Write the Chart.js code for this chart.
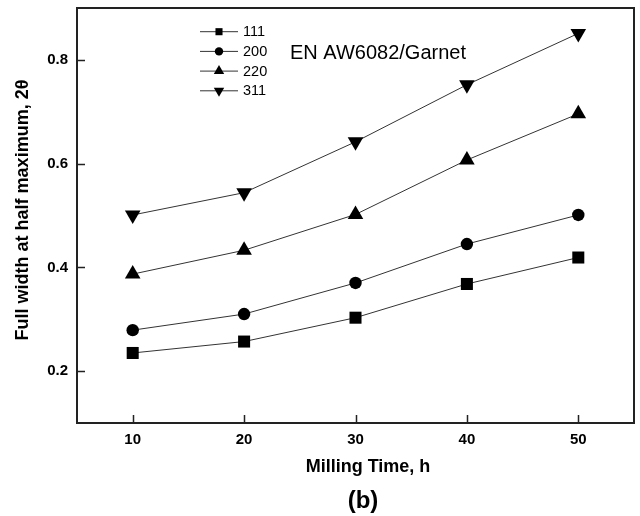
<!DOCTYPE html>
<html>
<head>
<meta charset="utf-8">
<title>FWHM vs milling time</title>
<script src="https://cdn.jsdelivr.net/npm/chart.js@4.4.1/dist/chart.umd.min.js"></script>
<style>
  html, body { margin: 0; padding: 0; background: #fff; }
  #wrap { width: 640px; height: 516px; }
</style>
</head>
<body>
<div id="wrap"><canvas id="fwhmChart" width="640" height="516"></canvas></div>
<script>
// Dáta odčítané z grafu
const millingTime = [10, 20, 30, 40, 50];
const fwhm111 = [0.235, 0.257, 0.303, 0.368, 0.419];
const fwhm200 = [0.279, 0.310, 0.370, 0.445, 0.501];
const fwhm220 = [0.387, 0.433, 0.502, 0.607, 0.696];
const fwhm311 = [0.501, 0.544, 0.642, 0.752, 0.851];
const seriesLabels = ['111', '200', '220', '311'];
const xTicks = [10, 20, 30, 40, 50];
const yTicks = [0.2, 0.4, 0.6, 0.8];

const FONT = "Arial, 'Liberation Sans', sans-serif";
const INK = '#222';

function toPoints(values) {
    return millingTime.map((t, i) => ({ x: t, y: values[i] }));
}

const markers = [
    { pointStyle: 'rect', rotation: 0, radius: 8.5, legendRadius: 5 },
    { pointStyle: 'circle', rotation: 0, radius: 6.2, legendRadius: 4.2 },
    { pointStyle: 'triangle', rotation: 0, radius: 9, legendRadius: 6 },
    { pointStyle: 'triangle', rotation: 180, radius: 9, legendRadius: 6 }
];

const allSeries = [fwhm111, fwhm200, fwhm220, fwhm311];

const datasets = allSeries.map((values, i) => ({
    label: seriesLabels[i],
    data: toPoints(values),
    borderColor: '#333',
    borderWidth: 1,
    backgroundColor: '#000',
    pointBackgroundColor: '#000',
    pointBorderColor: '#000',
    pointBorderWidth: 0,
    pointStyle: markers[i].pointStyle,
    rotation: markers[i].rotation,
    pointRadius: markers[i].radius,
    pointHoverRadius: markers[i].radius,
    tension: 0
}));

// Rámček, vnútorné značky osí, legenda a popisky
const decorPlugin = {
    id: 'decor',
    afterDraw(chart) {
        const ctx = chart.ctx;
        const area = chart.chartArea;
        const xs = chart.scales.x;
        const ys = chart.scales.y;
        ctx.save();

        // rámček
        ctx.strokeStyle = INK;
        ctx.lineWidth = 2;
        ctx.strokeRect(area.left, area.top, area.right - area.left, area.bottom - area.top);

        // značky dovnútra
        ctx.lineWidth = 1.5;
        ctx.beginPath();
        xTicks.forEach(v => {
            const px = Math.round(xs.getPixelForValue(v)) + 0.5;
            ctx.moveTo(px, area.bottom);
            ctx.lineTo(px, area.bottom - 8);
        });
        yTicks.forEach(v => {
            const py = Math.round(ys.getPixelForValue(v)) + 0.5;
            ctx.moveTo(area.left, py);
            ctx.lineTo(area.left + 8, py);
        });
        ctx.stroke();

        // legenda
        ctx.textBaseline = 'middle';
        ctx.textAlign = 'left';
        ctx.font = '14.5px ' + FONT;
        chart.data.datasets.forEach((ds, i) => {
            const y = 31.7 + i * 19.7;
            ctx.strokeStyle = '#333';
            ctx.lineWidth = 1;
            ctx.beginPath();
            ctx.moveTo(200, y);
            ctx.lineTo(238, y);
            ctx.stroke();
            ctx.fillStyle = '#000';
            Chart.helpers.drawPoint(ctx, {
                pointStyle: ds.pointStyle,
                rotation: ds.rotation,
                radius: markers[i].legendRadius,
                borderWidth: 0
            }, 219, y);
            ctx.fillStyle = '#000';
            ctx.fillText(ds.label, 243, y + 0.5);
        });

        // anotácia
        ctx.font = '20px ' + FONT;
        ctx.fillText('EN AW6082/Garnet', 290, 53);

        // názvy osí
        ctx.font = 'bold 18px ' + FONT;
        ctx.textAlign = 'center';
        ctx.fillText('Milling Time, h', 368, 467);
        ctx.font = 'bold 24px ' + FONT;
        ctx.fillText('(b)', 363, 501);

        ctx.save();
        ctx.translate(23, 210);
        ctx.rotate(-Math.PI / 2);
        ctx.font = 'bold 18px ' + FONT;
        ctx.fillText('Full width at half maximum, 2\u03B8', 0, 0);
        ctx.restore();

        ctx.restore();
    }
};

// Pevné rozmery osí bez automatických okrajov
function fixBox(size, key) {
    return scale => {
        scale[key] = size;
        scale.paddingTop = 0;
        scale.paddingBottom = 0;
        scale.paddingLeft = 0;
        scale.paddingRight = 0;
    };
}

new Chart(document.getElementById('fwhmChart').getContext('2d'), {
    type: 'line',
    data: { datasets: datasets },
    options: {
        responsive: false,
        animation: false,
        layout: { autoPadding: false, padding: { top: 8, right: 6, left: 0, bottom: 0 } },
        plugins: {
            legend: { display: false },
            tooltip: { enabled: false }
        },
        scales: {
            x: {
                type: 'linear',
                min: 5,
                max: 55,
                grid: { display: false, drawTicks: false },
                border: { display: false },
                afterBuildTicks: scale => { scale.ticks = xTicks.map(v => ({ value: v })); },
                afterFit: fixBox(93, 'height'),
                ticks: {
                    padding: 8,
                    color: '#000',
                    font: { family: FONT, size: 15, weight: 'bold' },
                    callback: v => String(v)
                }
            },
            y: {
                type: 'linear',
                min: 0.1,
                max: 0.9,
                grid: { display: false, drawTicks: false },
                border: { display: false },
                afterBuildTicks: scale => { scale.ticks = yTicks.map(v => ({ value: v })); },
                afterFit: fixBox(77, 'width'),
                ticks: {
                    padding: 9,
                    color: '#000',
                    font: { family: FONT, size: 15, weight: 'bold' },
                    callback: v => Number(v).toFixed(1)
                }
            }
        }
    },
    plugins: [decorPlugin]
});
</script>
</body>
</html>
